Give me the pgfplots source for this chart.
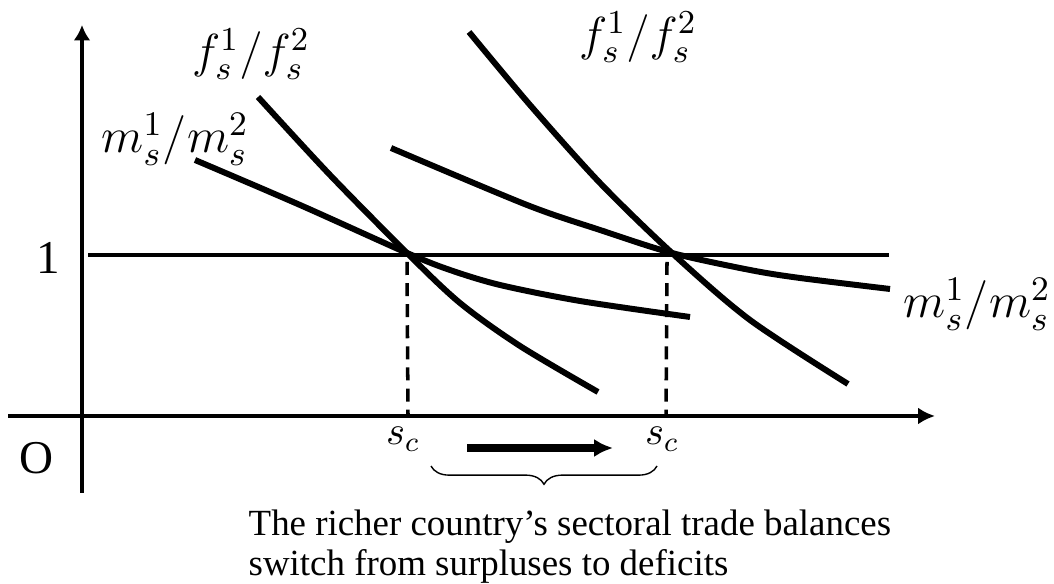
\RequirePackage{fix-cm}
\documentclass[border=0pt]{standalone}
\usepackage{fontspec}
\setmainfont{Liberation Serif}
\usepackage{pgfplots}
\pgfplotsset{compat=1.18}
\usetikzlibrary{arrows.meta,decorations.pathreplacing}

% coordinates are in pixels of the 1054x584 picture, y counted downwards
\begin{document}
\begin{tikzpicture}
\begin{axis}[
  scale only axis,
  width=105.4mm, height=58.4mm,
  xmin=0, xmax=1054, ymin=0, ymax=584,
  y dir=reverse,
  hide axis, clip=false,
]
% axes
\addplot[line width=0.95pt, -{Latex[length=4.4pt,width=4.8pt]}] coordinates {(82,493) (82,25)};
\addplot[line width=0.95pt, -{Latex[length=4.8pt,width=4.8pt]}] coordinates {(8,416) (935,416)};
% level 1
\addplot[line width=0.95pt] coordinates {(88,255) (889,255)};
% critical s
\addplot[line width=1pt, dash pattern=on 3.7pt off 2.3pt] coordinates {(407,262) (408,416)};
\addplot[line width=1pt, dash pattern=on 3.7pt off 2.3pt] coordinates {(667,262) (666,416)};
% left pair of curves
\addplot[line width=1.7pt, smooth] coordinates {(258,97) (330,175) (407,253) (460,303) (520,346) (598,392)};
\addplot[line width=1.7pt, smooth] coordinates {(195,160) (300,205) (407,253) (450,270) (500,285) (580,301) (690,317)};
% right pair of curves
\addplot[line width=1.7pt, smooth] coordinates {(469,32) (530,105) (600,183) (672,253) (750,320) (848,384)};
\addplot[line width=1.7pt, smooth] coordinates {(391,148) (527,205) (600,230) (672,253) (750,270) (800,278) (890,289)};
% shift arrow and brace
\addplot[line width=2pt, -{Latex[length=5.4pt,width=5.2pt]}] coordinates {(467,448) (613,448)};
\draw[line width=0.4pt, decorate, decoration={brace, mirror, amplitude=5.2pt}]
  (axis cs:431,466) -- (axis cs:657,466);

% labels
\node[font=\fontsize{13.6}{16}\selectfont] at (axis cs:251,54) {$f_s^1/f_s^2$};
\node[font=\fontsize{13.6}{16}\selectfont] at (axis cs:638,37) {$f_s^1/f_s^2$};
\node[font=\fontsize{14}{16}\selectfont, anchor=base] at (axis cs:175,153) {$m_s^1/m_s^2$};
\node[font=\fontsize{14}{16}\selectfont, anchor=base] at (axis cs:977,318) {$m_s^1/m_s^2$};
\node[font=\fontsize{13.4}{15}\selectfont] at (axis cs:48,258) {1};
\node[font=\fontsize{13.4}{15}\selectfont] at (axis cs:37,458) {O};
\node[font=\fontsize{11.5}{13}\selectfont, anchor=base] at (axis cs:403,445) {$s_c$};
\node[font=\fontsize{11.5}{13}\selectfont, anchor=base] at (axis cs:662,445) {$s_c$};
\node[font=\fontsize{10.5}{12}\selectfont, anchor=base west, inner sep=0pt] at (axis cs:248,536) {The richer country’s sectoral trade balances};
\node[font=\fontsize{10.5}{12}\selectfont, anchor=base west, inner sep=0pt] at (axis cs:248,576) {switch from surpluses to deficits};
\end{axis}
\pgfresetboundingbox
\useasboundingbox (0,0) rectangle (105.4mm,58.4mm);
\end{tikzpicture}
\end{document}
